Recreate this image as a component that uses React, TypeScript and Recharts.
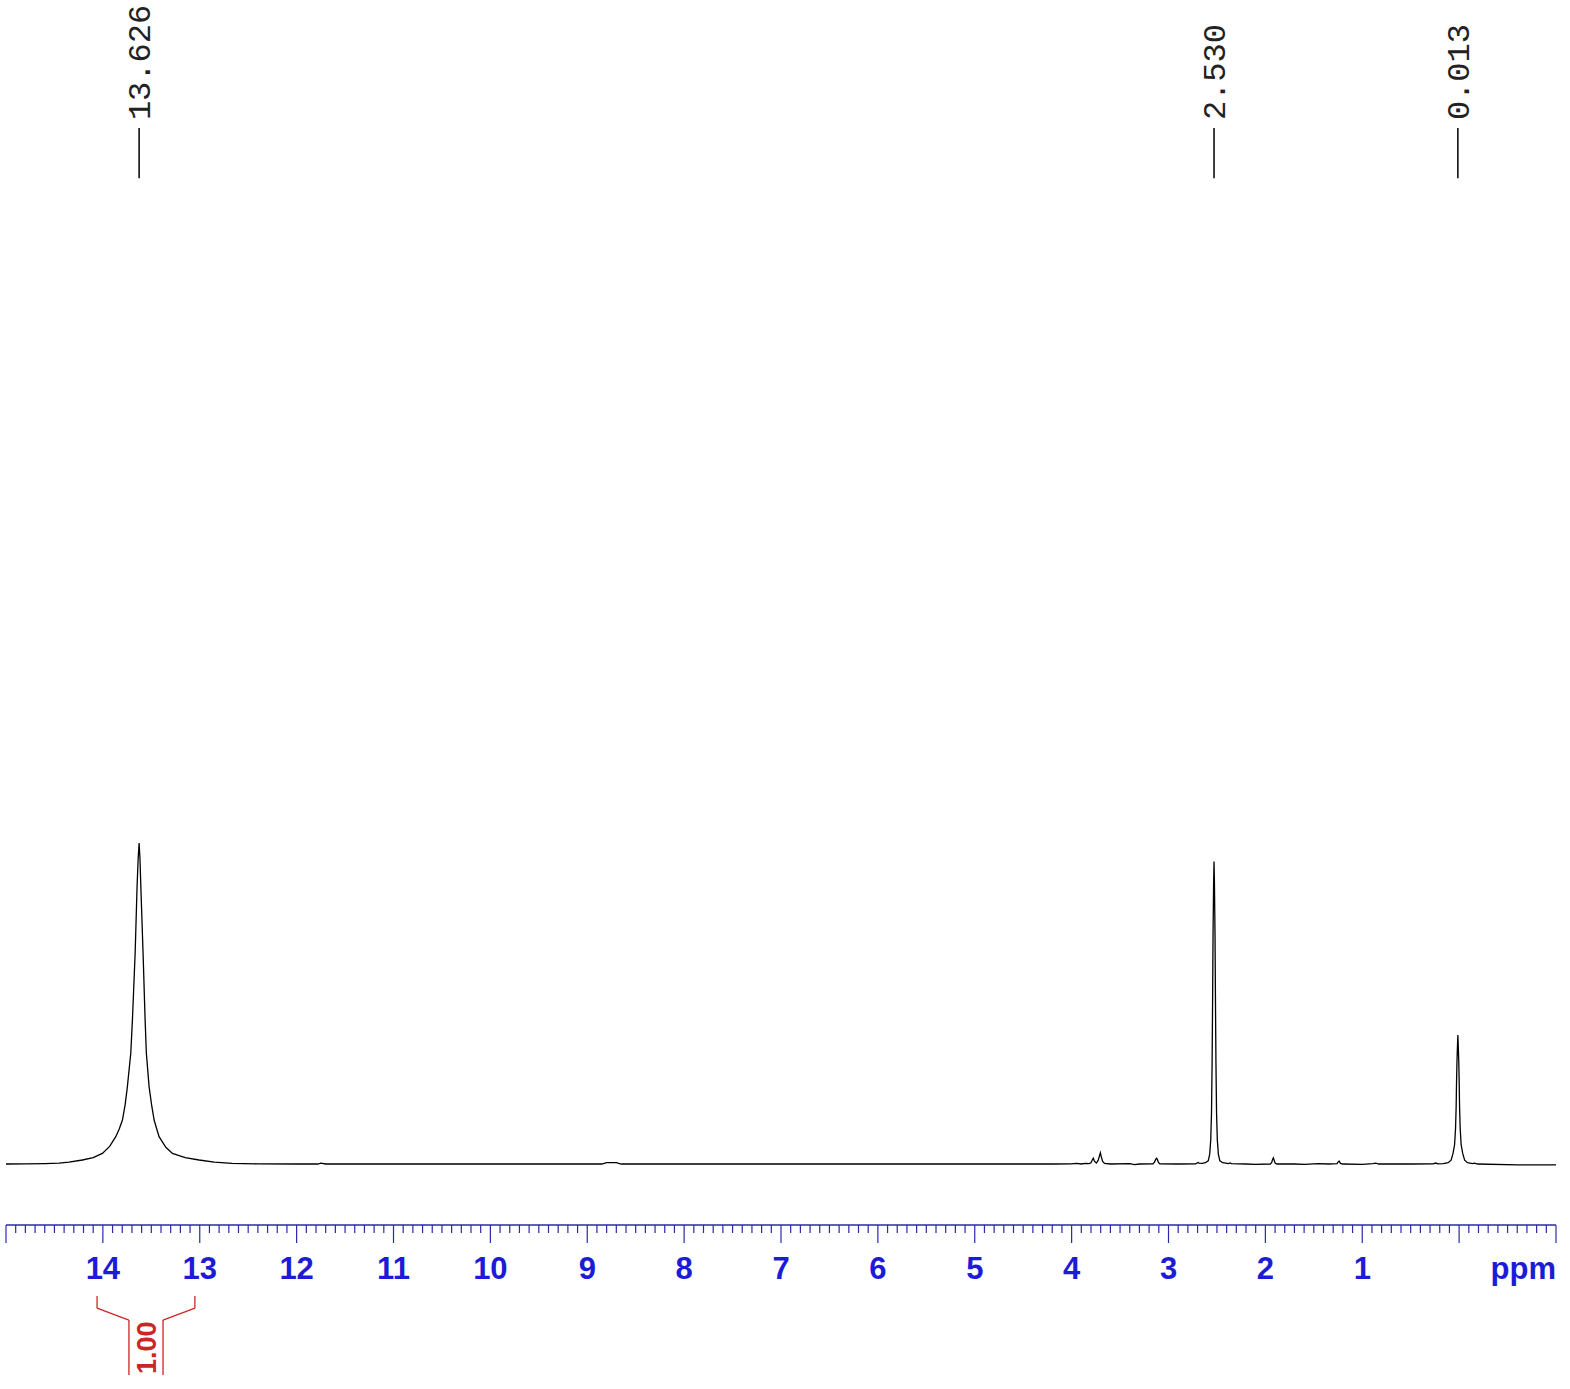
import React from 'react';
import { LineChart, Line, XAxis, YAxis, ReferenceLine, ReferenceDot } from 'recharts';

// ---- spectrum readings (ppm, relative intensity) ----
const BASELINE_LEFT: [number, number][] = [
  [15.0, 0], [14.8, 0.05], [14.6, 0.15], [14.452, 0.3], [14.35, 0.6],
];
const PEAK_13_626: [number, number][] = [
  [14.211, 1.25], [14.1, 2.0], [14.005, 3.3], [13.93, 5.5], [13.867, 8.5], [13.83, 11],
  [13.798, 13.7], [13.77, 18.5], [13.747, 24.1], [13.712, 34.5], [13.695, 44.9],
  [13.667, 65.6], [13.647, 86.4], [13.636, 95], [13.626, 100], [13.617, 95],
  [13.608, 86.4], [13.585, 65.6], [13.564, 44.9], [13.551, 34.5], [13.523, 24.1],
  [13.495, 18], [13.471, 13.7], [13.44, 10.5], [13.42, 8.5], [13.35, 5.2],
  [13.282, 3.3], [13.15, 2.0], [13.007, 1.25], [12.85, 0.6], [12.666, 0.2], [12.4, 0.05],
];
const BASELINE_MID: [number, number][] = [
  [12.0, 0], [11.78, 0], [11.75, 0.25], [11.7, 0], [10.0, 0], [8.85, 0], [8.8, 0.4],
  [8.7, 0.4], [8.65, 0], [6.0, 0], [4.2, 0], [4.0, 0.05], [3.95, 0.2], [3.9, 0], [3.86, 0.2],
];
const PEAKS_3_7: [number, number][] = [
  [3.82, 0.1], [3.8, 0.4], [3.785, 1.4], [3.776, 1.8], [3.765, 0.9], [3.744, 0.3],
  [3.725, 1.2], [3.712, 2.6], [3.703, 3.5], [3.695, 2.4], [3.68, 0.8], [3.66, 0.2],
  [3.6, 0], [3.4, 0.1], [3.35, -0.2], [3.3, 0],
  [3.16, 0.05], [3.145, 0.6], [3.131, 1.5], [3.124, 1.8], [3.116, 1.5], [3.105, 0.6], [3.09, 0.05],
  [2.9, 0], [2.72, 0.05], [2.7, 0.4], [2.693, 0.5], [2.685, 0.3], [2.65, 0.2],
];
const PEAK_2_530: [number, number][] = [
  [2.62, 0.4], [2.59, 1], [2.575, 3], [2.564, 7.5], [2.556, 16], [2.55, 31], [2.545, 50],
  [2.54, 72], [2.534, 88], [2.53, 94.2], [2.526, 88], [2.52, 72], [2.515, 50], [2.51, 31],
  [2.504, 16], [2.496, 7.5], [2.485, 3], [2.47, 1], [2.44, 0.4], [2.38, 0.1],
  [2.365, 0.35], [2.35, 0.1],
];
const SMALL_PEAKS_RIGHT: [number, number][] = [
  [2.2, 0], [2.1, -0.1], [1.95, 0], [1.935, 0.4], [1.925, 1.5], [1.918, 1.9], [1.911, 1.3],
  [1.9, 0.3], [1.88, 0], [1.7, 0], [1.6, -0.1], [1.45, 0.1], [1.35, 0], [1.26, 0.1],
  [1.245, 0.8], [1.238, 0.9], [1.225, 0.2], [1.2, 0], [1.0, -0.1], [0.89, 0.1], [0.86, 0.25],
  [0.83, 0], [0.5, 0], [0.27, 0.05], [0.24, 0.3], [0.22, 0.05],
];
const PEAK_0_013: [number, number][] = [
  [0.163, 0.1], [0.113, 0.4], [0.083, 1.2], [0.063, 3.3], [0.047, 6], [0.037, 11],
  [0.0305, 18], [0.027, 25], [0.023, 31], [0.018, 36], [0.013, 40.2], [0.008, 36],
  [0.003, 31], [-0.001, 25], [-0.0045, 18], [-0.011, 11], [-0.021, 6], [-0.037, 3.3],
  [-0.057, 1.2], [-0.087, 0.4], [-0.137, 0.1],
];
const BASELINE_RIGHT: [number, number][] = [
  [-0.16, 0.25], [-0.19, 0], [-0.6, -0.3], [-1.0, -0.3],
];

// ---- annotations ----
const PEAK_LABEL_PPM = [13.626, 2.53, 0.013];
const PEAK_LABEL_TEXT = ['13.626', '2.530', '0.013'];

const INTEGRAL_FROM = [14.06];
const INTEGRAL_TO = [13.05];
const INTEGRAL_VALUE = ['1.00'];

// ---- axis ----
const MAJOR_TICKS = [15, 14, 13, 12, 11, 10, 9, 8, 7, 6, 5, 4, 3, 2, 1, 0, -1];
const MAJOR_LABELS = ['', '14', '13', '12', '11', '10', '9', '8', '7', '6', '5', '4', '3', '2', '1', '', 'ppm'];

const MINOR_TICKS: number[] = [];
for (let i = 150; i >= -10; i--) MINOR_TICKS.push(i / 10);

const data = [
  ...BASELINE_LEFT, ...PEAK_13_626, ...BASELINE_MID, ...PEAKS_3_7, ...PEAK_2_530,
  ...SMALL_PEAKS_RIGHT, ...PEAK_0_013, ...BASELINE_RIGHT,
]
  .map(([ppm, v]) => ({ ppm, v }))
  .sort((a, b) => b.ppm - a.ppm);

const BLUE = '#1c1cd8';
const AXIS_BLUE = '#2a2aa8';
const RED = '#cc2525';

const AxisTick = (props: any) => {
  const { x, y, payload } = props;
  const v = payload.value;
  const idx = MAJOR_TICKS.findIndex((m) => Math.abs(m - v) < 1e-6);
  const major = idx >= 0;
  const label = major ? MAJOR_LABELS[idx] : '';
  return (
    <g>
      <line x1={x} x2={x} y1={y} y2={y + (major ? 18 : 8)} stroke={AXIS_BLUE} strokeWidth={1.2} />
      {label !== '' && (
        <text
          x={label === 'ppm' ? x : x}
          y={y + 54}
          textAnchor={label === 'ppm' ? 'end' : 'middle'}
          fontFamily="'Liberation Sans', Arial, sans-serif"
          fontWeight="bold"
          fontSize={31}
          fill={BLUE}
        >
          {label}
        </text>
      )}
    </g>
  );
};

const peakTextShape = (text: string) => (props: any) => {
  const { cx, cy } = props;
  return (
    <text
      transform={`translate(${cx + 11}, ${cy - 8}) rotate(-90)`}
      textAnchor="start"
      fontFamily="'Liberation Mono', 'Courier New', monospace"
      fontSize={32}
      fill="#222"
    >
      {text}
    </text>
  );
};

const integralTextShape = (text: string) => (props: any) => {
  const { cx, cy } = props;
  return (
    <text
      transform={`translate(${cx + 10}, ${cy - 1}) rotate(-90)`}
      textAnchor="start"
      fontFamily="'Liberation Sans', Arial, sans-serif"
      fontWeight="bold"
      fontSize={27}
      fill={RED}
    >
      {text}
    </text>
  );
};

// intensity levels (data units) used for annotation placement
const PEAK_LINE_LOW = 307.1;
const PEAK_LINE_HIGH = 322.7;
const INT_TOP = -41.1;
const INT_BEND = -44.9;
const INT_INNER = -48.6;
const INT_BOTTOM = -65.7;

export default function App() {
  return (
    <div style={{ position: 'absolute', left: 0, top: 0, width: 1570, height: 1389, background: '#fff' }}>
      <LineChart width={1570} height={1389} data={data} margin={{ top: 0, right: 14, left: 6, bottom: 0 }}>
        <XAxis
          dataKey="ppm"
          type="number"
          domain={[-1, 15]}
          reversed
          allowDataOverflow
          ticks={MINOR_TICKS}
          interval={0}
          tickSize={0}
          tickMargin={0}
          tickLine={false}
          axisLine={{ stroke: AXIS_BLUE, strokeWidth: 1.5 }}
          tick={(p: any) => <AxisTick {...p} />}
          height={164}
        />
        <YAxis hide type="number" domain={[-19, 362.6]} allowDataOverflow />
        <Line
          type="linear"
          dataKey="v"
          stroke="#000"
          strokeWidth={1.3}
          dot={false}
          isAnimationActive={false}
        />
        {PEAK_LABEL_PPM.map((p, i) => (
          <ReferenceLine
            key={'pl' + i}
            segment={[{ x: p, y: PEAK_LINE_LOW }, { x: p, y: PEAK_LINE_HIGH }]}
            stroke="#000"
            strokeWidth={1.5}
          />
        ))}
        {PEAK_LABEL_PPM.map((p, i) => (
          <ReferenceDot
            key={'pt' + i}
            x={p}
            y={PEAK_LINE_HIGH}
            r={0}
            shape={peakTextShape(PEAK_LABEL_TEXT[i])}
          />
        ))}
        {INTEGRAL_FROM.map((from, i) => {
          const to = INTEGRAL_TO[i];
          const mid = (from + to) / 2;
          const innerL = mid + 0.176;
          const innerR = mid - 0.176;
          const segs: [number, number, number, number][] = [
            [from, INT_TOP, from, INT_BEND],
            [from, INT_BEND, innerL, INT_INNER],
            [innerL, INT_INNER, innerL, INT_BOTTOM],
            [to, INT_TOP, to, INT_BEND],
            [to, INT_BEND, innerR, INT_INNER],
            [innerR, INT_INNER, innerR, INT_BOTTOM],
          ];
          return (
            <React.Fragment key={'int' + i}>
              {segs.map((s, j) => (
                <ReferenceLine
                  key={'is' + j}
                  segment={[{ x: s[0], y: s[1] }, { x: s[2], y: s[3] }]}
                  stroke={RED}
                  strokeWidth={1.3}
                  ifOverflow="visible"
                />
              ))}
              <ReferenceDot
                x={mid}
                y={INT_BOTTOM}
                r={0}
                ifOverflow="visible"
                shape={integralTextShape(INTEGRAL_VALUE[i])}
              />
            </React.Fragment>
          );
        })}
      </LineChart>
    </div>
  );
}
